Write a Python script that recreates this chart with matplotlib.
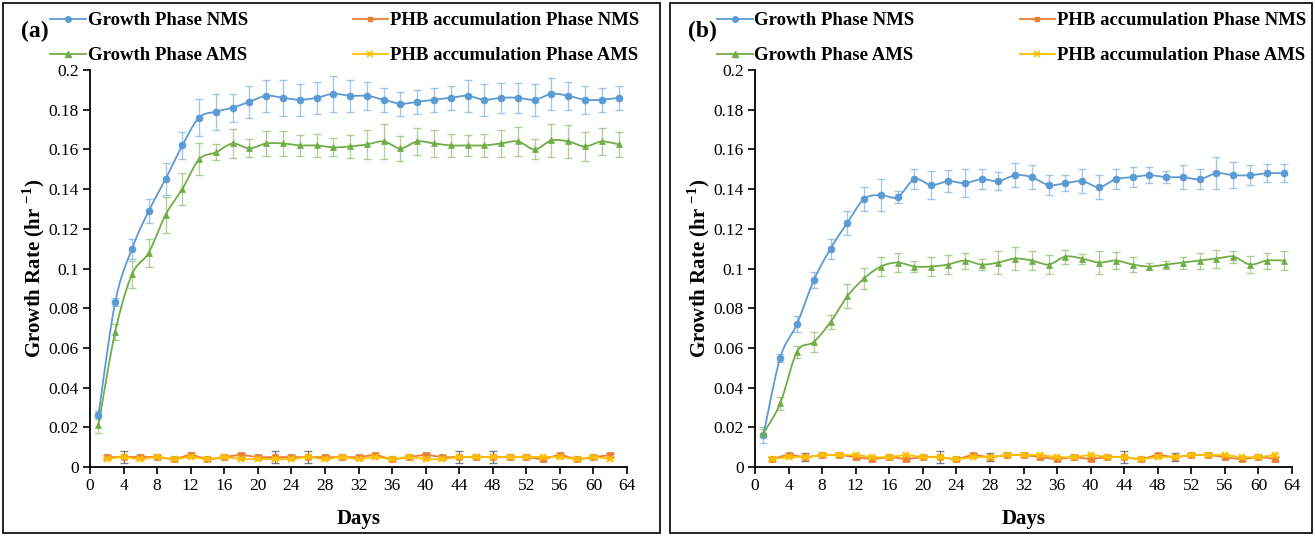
import numpy as np
import matplotlib
matplotlib.use("Agg")
import matplotlib.pyplot as plt
from matplotlib.lines import Line2D
from matplotlib.patches import Rectangle
from matplotlib.ticker import FuncFormatter, MultipleLocator

plt.rcParams['font.family'] = ['Liberation Serif', 'DejaVu Serif']
plt.rcParams['mathtext.fontset'] = 'custom'
plt.rcParams['mathtext.rm'] = 'Liberation Serif'
plt.rcParams['mathtext.bf'] = 'Liberation Serif:bold'

# Sampling days
growth_days = list(range(1, 64, 2))
phb_days = list(range(2, 63, 2))

# Panel (a)
a_growth_nms = [0.026, 0.083, 0.110, 0.129, 0.145, 0.162, 0.176, 0.179, 0.181, 0.184, 0.187, 0.186,
                0.185, 0.186, 0.188, 0.187, 0.187, 0.185, 0.183, 0.184, 0.185, 0.186, 0.187, 0.185,
                0.186, 0.186, 0.185, 0.188, 0.187, 0.185, 0.185, 0.186]
a_growth_nms_err = [0.002, 0.002, 0.005, 0.006, 0.008, 0.007, 0.0095, 0.009, 0.007, 0.008, 0.008, 0.009,
                    0.008, 0.008, 0.009, 0.008, 0.007, 0.006, 0.006, 0.006, 0.006, 0.006, 0.008, 0.008,
                    0.0075, 0.0075, 0.008, 0.008, 0.007, 0.007, 0.006, 0.006]
a_growth_ams = [0.021, 0.068, 0.097, 0.108, 0.127, 0.140, 0.155, 0.1585, 0.163, 0.1605, 0.163, 0.163,
                0.162, 0.162, 0.161, 0.1615, 0.1625, 0.164, 0.1605, 0.164, 0.163, 0.162, 0.162, 0.162,
                0.163, 0.164, 0.160, 0.1645, 0.164, 0.1615, 0.164, 0.1625]
a_growth_ams_err = [0.004, 0.004, 0.007, 0.007, 0.009, 0.008, 0.008, 0.004, 0.0075, 0.0045, 0.0065, 0.0065,
                    0.0055, 0.006, 0.0045, 0.006, 0.0075, 0.009, 0.0065, 0.007, 0.007, 0.006, 0.0055, 0.006,
                    0.007, 0.0075, 0.005, 0.0085, 0.0085, 0.0075, 0.007, 0.0065]
a_phb_nms = [0.005, 0.005, 0.005, 0.005, 0.004, 0.006, 0.004, 0.005, 0.006, 0.005, 0.005, 0.005, 0.005,
             0.005, 0.005, 0.005, 0.006, 0.004, 0.005, 0.006, 0.005, 0.005, 0.005, 0.005, 0.005, 0.005,
             0.004, 0.006, 0.004, 0.005, 0.006]
a_phb_nms_err = [0.001, 0.003, 0.001, 0.001, 0.001, 0.001, 0.001, 0.001, 0.001, 0.001, 0.003, 0.001, 0.003,
                 0.001, 0.001, 0.001, 0.001, 0.001, 0.001, 0.001, 0.001, 0.003, 0.001, 0.003, 0.001, 0.001,
                 0.001, 0.001, 0.001, 0.001, 0.001]
a_phb_ams = [0.004, 0.005, 0.004, 0.005, 0.004, 0.005, 0.004, 0.005, 0.004, 0.004, 0.004, 0.004, 0.005,
             0.004, 0.005, 0.004, 0.005, 0.004, 0.005, 0.004, 0.004, 0.005, 0.005, 0.005, 0.005, 0.005,
             0.005, 0.005, 0.004, 0.005, 0.004]

# Panel (b)
b_growth_nms = [0.016, 0.055, 0.072, 0.094, 0.110, 0.123, 0.135, 0.137, 0.136, 0.145, 0.142, 0.144,
                0.143, 0.145, 0.144, 0.147, 0.146, 0.142, 0.143, 0.144, 0.141, 0.145, 0.146, 0.147,
                0.146, 0.146, 0.145, 0.148, 0.147, 0.147, 0.148, 0.148]
b_growth_nms_err = [0.004, 0.002, 0.004, 0.004, 0.005, 0.006, 0.006, 0.008, 0.003, 0.005, 0.007, 0.0055,
                    0.007, 0.005, 0.0045, 0.006, 0.006, 0.005, 0.004, 0.006, 0.006, 0.005, 0.005, 0.004,
                    0.003, 0.006, 0.005, 0.008, 0.0065, 0.005, 0.0045, 0.0045]
b_growth_ams = [0.017, 0.032, 0.058, 0.063, 0.073, 0.086, 0.095, 0.101, 0.103, 0.101, 0.101, 0.102,
                0.104, 0.102, 0.103, 0.105, 0.104, 0.102, 0.106, 0.105, 0.103, 0.104, 0.102, 0.101,
                0.102, 0.103, 0.104, 0.105, 0.106, 0.102, 0.104, 0.104]
b_growth_ams_err = [0.002, 0.0035, 0.003, 0.005, 0.0035, 0.006, 0.0055, 0.005, 0.005, 0.003, 0.005, 0.005,
                    0.004, 0.003, 0.006, 0.006, 0.005, 0.005, 0.0035, 0.0025, 0.006, 0.0045, 0.004, 0.002,
                    0.002, 0.003, 0.004, 0.0045, 0.003, 0.0045, 0.004, 0.005]
b_phb_nms = [0.004, 0.006, 0.005, 0.006, 0.006, 0.005, 0.004, 0.005, 0.004, 0.005, 0.005, 0.004, 0.006,
             0.005, 0.006, 0.006, 0.005, 0.004, 0.005, 0.004, 0.005, 0.005, 0.004, 0.006, 0.005, 0.006,
             0.006, 0.005, 0.004, 0.005, 0.004]
b_phb_nms_err = [0.001, 0.001, 0.002, 0.001, 0.001, 0.001, 0.001, 0.001, 0.001, 0.001, 0.003, 0.001, 0.001,
                 0.002, 0.001, 0.001, 0.001, 0.001, 0.001, 0.001, 0.001, 0.003, 0.001, 0.001, 0.002, 0.001,
                 0.001, 0.001, 0.001, 0.001, 0.001]
b_phb_ams = [0.004, 0.005, 0.005, 0.006, 0.006, 0.006, 0.005, 0.005, 0.006, 0.005, 0.005, 0.004, 0.005,
             0.005, 0.006, 0.006, 0.006, 0.005, 0.005, 0.006, 0.005, 0.005, 0.004, 0.005, 0.005, 0.006,
             0.006, 0.006, 0.005, 0.005, 0.006]

labels = ["Growth Phase NMS", "PHB accumulation Phase NMS",
          "Growth Phase AMS", "PHB accumulation Phase AMS"]
colors = ["#5B9BD5", "#ED7D31", "#70AD47", "#FFC000"]


def smooth(x, y, n=16):
    """Catmull-Rom curve through the points (smoothed line look)."""
    x = np.asarray(x, float)
    y = np.asarray(y, float)
    pts = np.column_stack([x, y])
    out = []
    for i in range(len(pts) - 1):
        p0 = pts[i - 1] if i > 0 else pts[i]
        p1 = pts[i]
        p2 = pts[i + 1]
        p3 = pts[i + 2] if i + 2 < len(pts) else pts[i + 1]
        t = np.linspace(0, 1, n, endpoint=False)[:, None]
        seg = 0.5 * (2 * p1 + (-p0 + p2) * t + (2 * p0 - 5 * p1 + 4 * p2 - p3) * t ** 2
                     + (-p0 + 3 * p1 - 3 * p2 + p3) * t ** 3)
        out.append(seg)
    out.append(pts[-1:])
    c = np.vstack(out)
    return c[:, 0], c[:, 1]


def draw_series(ax, x, y, err, color, marker, err_color, err_alpha, ms, z):
    ax.errorbar(x, y, yerr=err, fmt="none", ecolor=err_color, alpha=err_alpha,
                elinewidth=1.0, capsize=3, capthick=1.0, zorder=z)
    sx, sy = smooth(x, y)
    ax.plot(sx, sy, color=color, lw=1.3, zorder=z + 1, solid_capstyle="round")
    mew = 1.5 if marker == "x" else 0.5
    ax.plot(x, y, linestyle="none", marker=marker, ms=ms, color=color,
            markeredgecolor=color, markeredgewidth=mew, zorder=z + 2)


def fmt(v, _):
    return f"{v:.2f}".rstrip("0").rstrip(".")


W, H = 1315, 536
fig = plt.figure(figsize=(W / 100, H / 100), dpi=100)

panels = [
    ("(a)", 90, (a_growth_nms, a_growth_nms_err, a_phb_nms, a_phb_nms_err,
                 a_growth_ams, a_growth_ams_err, a_phb_ams)),
    ("(b)", 755, (b_growth_nms, b_growth_nms_err, b_phb_nms, b_phb_nms_err,
                  b_growth_ams, b_growth_ams_err, b_phb_ams)),
]

frames = [(3, 660), (670, 1312)]

for (tag, left_px, data), (fx0, fx1) in zip(panels, frames):
    gn, gne, pn, pne, ga, gae, pa = data
    ax = fig.add_axes([left_px / W, 1 - 467 / H, 537 / W, 397 / H])

    draw_series(ax, growth_days, gn, gne, colors[0], "o", colors[0], 0.55, 5, 3)
    draw_series(ax, growth_days, ga, gae, colors[2], "^", colors[2], 0.55, 5, 3)
    draw_series(ax, phb_days, pn, pne, colors[1], "s", "#606060", 0.8, 4.5, 6)
    draw_series(ax, phb_days, pa, [0.0005] * len(pa), colors[3], "x", colors[3], 0.6, 4.5, 9)

    ax.set_xlim(0, 64)
    ax.set_ylim(0, 0.2)
    ax.xaxis.set_major_locator(MultipleLocator(4))
    ax.yaxis.set_major_locator(MultipleLocator(0.02))
    ax.yaxis.set_major_formatter(FuncFormatter(fmt))
    for s in ("top", "right"):
        ax.spines[s].set_visible(False)
    for s in ("left", "bottom"):
        ax.spines[s].set_linewidth(1.3)
        ax.spines[s].set_color("black")
    ax.tick_params(axis="both", direction="out", length=5, width=1.2, labelsize=12.5,
                   colors="black", pad=3)
    ax.set_xlabel("Days", fontsize=15, fontweight="bold")
    ax.xaxis.set_label_coords(0.5, -0.105)
    ax.set_ylabel(r"Growth Rate (hr $^{\mathbf{-1}}$)", fontsize=15, fontweight="bold")
    ax.yaxis.set_label_coords(-0.08, 0.5)

    # panel frame
    fig.patches.append(Rectangle((fx0 / W, 3 / H), (fx1 - fx0) / W, (H - 6) / H,
                                 transform=fig.transFigure, fill=False,
                                 edgecolor="black", lw=1.2))
    fig.text((fx0 + 32) / W, 1 - 31 / H, tag, fontsize=17, fontweight="bold",
             ha="center", va="center")

    handles = [
        Line2D([], [], color=colors[0], marker="o", ms=4, lw=1.3),
        Line2D([], [], color=colors[2], marker="^", ms=4, lw=1.3),
        Line2D([], [], color=colors[1], marker="s", ms=3.5, lw=1.3),
        Line2D([], [], color=colors[3], marker="x", ms=4, mew=1.3, lw=1.3),
    ]
    leg_labels = [labels[0], labels[2], labels[1], labels[3]]
    fig.legend(handles, leg_labels, ncol=2, loc="upper left",
               bbox_to_anchor=((fx0 + 47) / W, 1 - 12 / H),
               frameon=False, prop={"weight": "bold", "size": 13.5},
               handlelength=1.9, handletextpad=0.1, columnspacing=5.6,
               labelspacing=0.95, borderpad=0, borderaxespad=0)

fig.savefig("out.png", dpi=100)
